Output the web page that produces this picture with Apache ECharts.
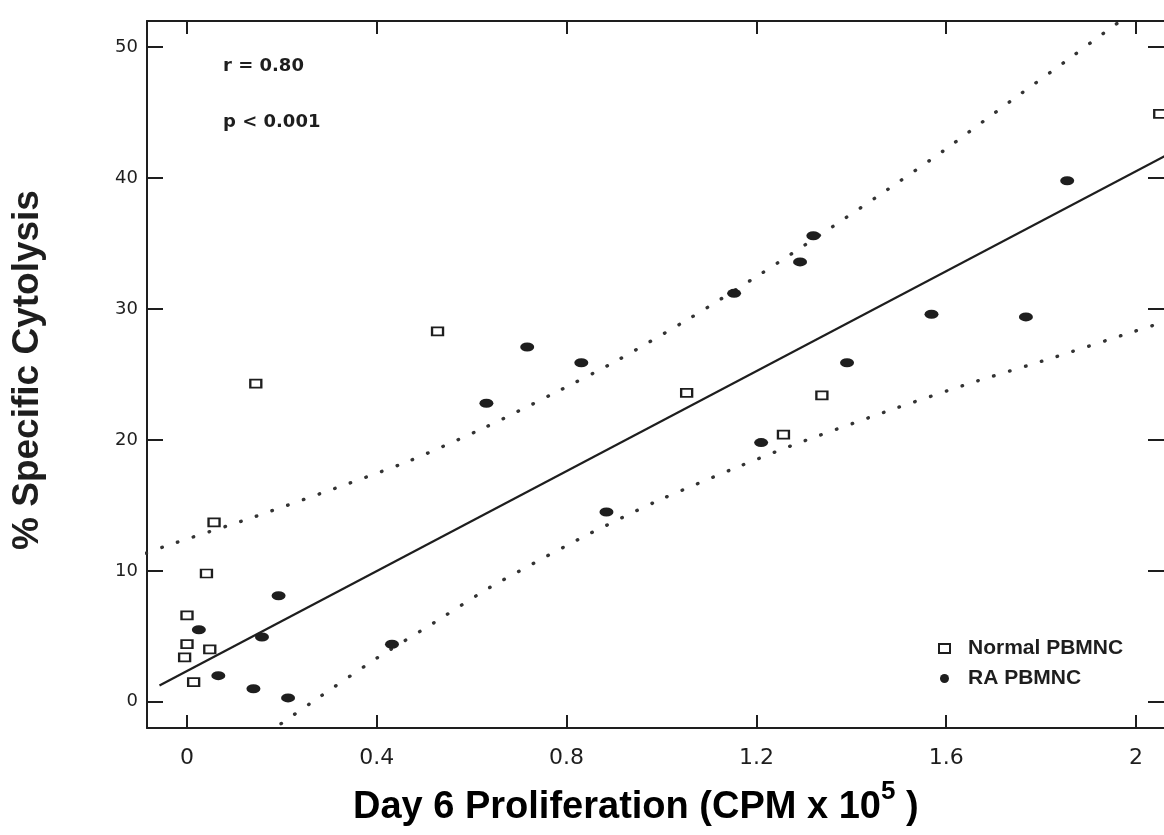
<!DOCTYPE html>
<html>
<head>
<meta charset="utf-8">
<script src="https://cdn.jsdelivr.net/npm/echarts@6/dist/echarts.min.js"></script>
<style>
  html, body { margin: 0; padding: 0; background: #ffffff; }
  #chart { width: 1164px; height: 835px; }
</style>
</head>
<body>
<div id="chart"></div>
<script>
// ---- data ----
const xTicks = [0, 0.4, 0.8, 1.2, 1.6, 2];
const xTickLabels = ['0', '0.4', '0.8', '1.2', '1.6', '2'];
const yTicks = [0, 10, 20, 30, 40, 50];
const yTickLabels = ['0', '10', '20', '30', '40', '50'];

const normalX = [0.000, 0.000, -0.005, 0.048, 0.014, 0.041, 0.057, 0.145, 0.528, 1.053, 1.257, 1.338, 2.050];
const normalY = [6.6, 4.4, 3.4, 4.0, 1.5, 9.8, 13.7, 24.3, 28.3, 23.6, 20.4, 23.4, 44.9];

const raX = [0.025, 0.066, 0.158, 0.140, 0.193, 0.213, 0.432, 0.631, 0.717, 0.831, 0.884, 1.153, 1.292, 1.320, 1.210, 1.391, 1.569, 1.768, 1.855];
const raY = [5.5, 2.0, 4.95, 1.0, 8.1, 0.3, 4.4, 22.8, 27.1, 25.9, 14.5, 31.2, 33.6, 35.6, 19.8, 25.9, 29.6, 29.4, 39.8];

const fitX = [-0.058, 2.075];
const fitY = [1.24, 41.95];

const upperX = [-0.086, -0.039, 0.131, 0.331, 0.466, 0.629, 0.783, 0.906, 1.063, 1.212, 1.360, 1.477, 1.594, 1.735, 1.849, 1.934, 1.975];
const upperY = [11.36, 11.97, 13.99, 16.55, 18.36, 20.97, 23.74, 26.06, 29.37, 32.75, 36.28, 39.14, 42.08, 45.86, 48.85, 51.13, 52.2];

const lowerX = [0.170, 0.196, 0.281, 0.401, 0.521, 0.638, 0.826, 0.988, 1.150, 1.283, 1.483, 1.651, 1.817, 1.986, 2.075];
const lowerY = [-2.4, -1.73, 0.41, 3.36, 6.05, 8.73, 12.43, 15.29, 17.78, 19.69, 22.29, 24.34, 26.19, 28.17, 29.2];

const seriesNames = ['Normal PBMNC', 'RA PBMNC'];
const statText = ['r = 0.80', 'p < 0.001'];
const xTitleParts = ['Day 6 Proliferation (CPM x 10', '5', ' )'];
const yTitle = '% Specific Cytolysis';

// ---- build ----
const zip = (xs, ys) => xs.map((x, i) => [x, ys[i]]);
const ink = '#1e1e1e';
const labelFor = (ticks, labels) => v => {
  let best = 0, bd = Infinity;
  ticks.forEach((t, i) => { const d = Math.abs(t - v); if (d < bd) { bd = d; best = i; } });
  return labels[best];
};
const ellipse = 'path://M0,10a10,10 0 1,0 20,0a10,10 0 1,0 -20,0';

const X_MIN = -0.0843, X_MAX = 2.0590, Y_MIN = -2, Y_MAX = 52;

const frameLine = { show: true, onZero: false, lineStyle: { color: ink, width: 2 } };
const xTick = { show: true, inside: true, length: 13, customValues: xTicks, lineStyle: { color: ink, width: 2 } };
const yTick = { show: true, inside: true, length: 16, customValues: yTicks, lineStyle: { color: ink, width: 2 } };

const chart = echarts.init(document.getElementById('chart'));
chart.setOption({
  backgroundColor: '#ffffff',
  animation: false,
  grid: { left: 147, right: 0, top: 21, bottom: 107, containLabel: false },
  xAxis: [
    {
      type: 'value', min: X_MIN, max: X_MAX, position: 'bottom',
      axisLine: frameLine, axisTick: xTick,
      axisLabel: {
        show: true, customValues: xTicks, formatter: labelFor(xTicks, xTickLabels),
        margin: 19, fontSize: 22, fontFamily: '"DejaVu Sans"', color: ink
      },
      splitLine: { show: false }
    },
    {
      type: 'value', min: X_MIN, max: X_MAX, position: 'top',
      axisLine: frameLine, axisTick: xTick,
      axisLabel: { show: false },
      splitLine: { show: false }
    }
  ],
  yAxis: [
    {
      type: 'value', min: Y_MIN, max: Y_MAX, position: 'left',
      axisLine: frameLine, axisTick: yTick,
      axisLabel: {
        show: true, customValues: yTicks, formatter: labelFor(yTicks, yTickLabels),
        margin: 9, fontSize: 18, fontFamily: '"DejaVu Sans"', color: ink
      },
      splitLine: { show: false }
    },
    {
      type: 'value', min: Y_MIN, max: Y_MAX, position: 'right',
      axisLine: { show: false, onZero: false }, axisTick: yTick,
      axisLabel: { show: false },
      splitLine: { show: false }
    }
  ],
  legend: {
    show: true,
    orient: 'vertical',
    left: 933, top: 633,
    itemWidth: 11, itemHeight: 9, itemGap: 9,
    data: [
      { name: seriesNames[0], icon: 'rect', itemStyle: { color: '#ffffff', borderColor: ink, borderWidth: 2 } },
      { name: seriesNames[1], icon: ellipse, itemStyle: { color: ink } }
    ],
    textStyle: { fontSize: 21, fontWeight: 'bold', fontFamily: '"Liberation Sans"', color: ink, lineHeight: 21, padding: [0, 0, 0, 13] }
  },
  graphic: [
    {
      type: 'text', x: 223, y: 66,
      style: { text: statText[0], font: 'bold 18px "DejaVu Sans"', fill: ink, verticalAlign: 'middle', align: 'left' }
    },
    {
      type: 'text', x: 223, y: 122,
      style: { text: statText[1], font: 'bold 18px "DejaVu Sans"', fill: ink, verticalAlign: 'middle', align: 'left' }
    },
    {
      type: 'text', x: 28, y: 370, rotation: Math.PI / 2,
      style: { text: yTitle, font: 'bold 37px "Liberation Sans"', fill: ink, align: 'center', verticalAlign: 'middle' }
    },
    {
      type: 'text', x: 353, y: 837,
      style: {
        text: '{a|' + xTitleParts[0] + '}{b|' + xTitleParts[1] + '}{a|' + xTitleParts[2] + '}',
        align: 'left', verticalAlign: 'bottom',
        rich: {
          a: { fontSize: 38, fontWeight: 'bold', fontFamily: '"Liberation Sans"', color: ink },
          b: { fontSize: 26, fontWeight: 'bold', fontFamily: '"Liberation Sans"', color: ink, padding: [0, 0, 32, 0] }
        }
      }
    }
  ],
  series: [
    {
      name: 'fit', type: 'line', xAxisIndex: 0, yAxisIndex: 0,
      data: zip(fitX, fitY), showSymbol: false, symbol: 'none', silent: true, clip: true,
      lineStyle: { color: ink, width: 2.2 }, z: 2
    },
    {
      name: 'upper', type: 'line', data: zip(upperX, upperY), showSymbol: false, symbol: 'none',
      smooth: 0.2, silent: true, clip: true,
      lineStyle: { color: '#333', width: 3.4, type: [0.5, 16.1], cap: 'round' }, z: 2
    },
    {
      name: 'lower', type: 'line', data: zip(lowerX, lowerY), showSymbol: false, symbol: 'none',
      smooth: 0.2, silent: true, clip: true,
      lineStyle: { color: '#333', width: 3.4, type: [0.5, 16.1], cap: 'round' }, z: 2
    },
    {
      name: seriesNames[0], type: 'scatter', data: zip(normalX, normalY),
      symbol: 'rect', symbolSize: [11, 8],
      itemStyle: { color: '#ffffff', borderColor: ink, borderWidth: 2, opacity: 1 }, z: 3
    },
    {
      name: seriesNames[1], type: 'scatter', data: zip(raX, raY),
      symbol: ellipse, symbolSize: [14, 9],
      itemStyle: { color: ink, opacity: 1 }, z: 3
    }
  ]
});
</script>
</body>
</html>
